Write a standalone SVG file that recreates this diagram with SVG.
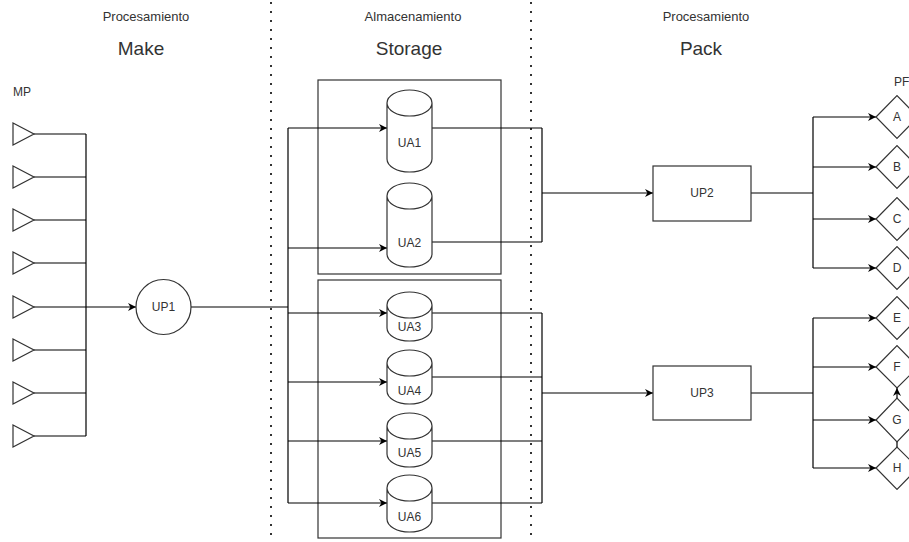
<svg xmlns="http://www.w3.org/2000/svg" width="909" height="542" viewBox="0 0 909 542">
<defs>
<style>
text{font-family:"Liberation Sans",Arial,sans-serif;fill:#333;}
.sm{font-size:12px;}
.hd{font-size:13px;}
.big{font-size:19px;}
.lbl{font-size:12px;text-anchor:middle;}
.shape{fill:#fff;stroke:#333;stroke-width:1.2;}
.box{fill:none;stroke:#333;stroke-width:1.2;}
.ln{fill:none;stroke:#000;stroke-width:1.2;}
.dot{stroke:#333;stroke-width:2;stroke-dasharray:2 7;}
</style>
<marker id="arr" viewBox="0 0 10 10" refX="10" refY="5" markerWidth="8" markerHeight="8" markerUnits="userSpaceOnUse" orient="auto">
<path d="M0,0 L10,5 L0,10 L3,5 Z" fill="#000"/>
</marker>
</defs>
<rect width="909" height="542" fill="#fff"/>

<g id="dividers">
<line class="dot" x1="271" y1="2" x2="271" y2="542"/>
<line class="dot" x1="531" y1="2" x2="531" y2="542"/>
</g>

<g id="headers">
<text class="hd" x="146" y="21" text-anchor="middle">Procesamiento</text>
<text class="big" x="141" y="55" text-anchor="middle">Make</text>
<text class="hd" x="413" y="21" text-anchor="middle">Almacenamiento</text>
<text class="big" x="409" y="55" text-anchor="middle">Storage</text>
<text class="hd" x="706" y="21" text-anchor="middle">Procesamiento</text>
<text class="big" x="701" y="55" text-anchor="middle">Pack</text>
<text class="sm" x="13" y="96">MP</text>
<text class="sm" x="894" y="86">PF</text>
</g>

<g id="storage-boxes">
<rect id="storage-1" class="box" x="318" y="80" width="183" height="194"/>
<rect id="storage-2" class="box" x="318" y="280" width="183" height="258"/>
</g>

<g id="connectors">
<!-- MP to UP1 -->
<path class="ln" d="M34,134 H86 M34,177 H86 M34,220 H86 M34,263 H86 M34,350 H86 M34,393 H86 M34,436 H86 M86,134 V436"/>
<path class="ln" d="M34,307 H136" marker-end="url(#arr)"/>
<!-- UP1 to UAs -->
<path class="ln" d="M191,307 H288 M288,128 V503"/>
<path class="ln" d="M288,128 H387" marker-end="url(#arr)"/>
<path class="ln" d="M288,248 H387" marker-end="url(#arr)"/>
<path class="ln" d="M288,313 H387" marker-end="url(#arr)"/>
<path class="ln" d="M288,382 H387" marker-end="url(#arr)"/>
<path class="ln" d="M288,441 H387" marker-end="url(#arr)"/>
<path class="ln" d="M288,503 H387" marker-end="url(#arr)"/>
<!-- UAs to UP2 / UP3 -->
<path class="ln" d="M432,128 H542 M432,242 H542 M542,128 V242"/>
<path class="ln" d="M542,193 H653" marker-end="url(#arr)"/>
<path class="ln" d="M432,313 H542 M432,377 H542 M432,441 H542 M432,503 H542 M542,313 V503"/>
<path class="ln" d="M542,393 H653" marker-end="url(#arr)"/>
<!-- UP2 to A-D -->
<path class="ln" d="M751,193 H813 M813,117 V268"/>
<path class="ln" d="M813,117 H876" marker-end="url(#arr)"/>
<path class="ln" d="M813,167 H876" marker-end="url(#arr)"/>
<path class="ln" d="M813,219 H876" marker-end="url(#arr)"/>
<path class="ln" d="M813,268 H876" marker-end="url(#arr)"/>
<!-- UP3 to E-H -->
<path class="ln" d="M751,393 H813 M813,318 V468"/>
<path class="ln" d="M813,318 H876" marker-end="url(#arr)"/>
<path class="ln" d="M813,367 H876" marker-end="url(#arr)"/>
<path class="ln" d="M813,420 H876" marker-end="url(#arr)"/>
<path class="ln" d="M813,468 H876" marker-end="url(#arr)"/>
<!-- G to F, H to G -->
<path class="ln" d="M897,398 V388" marker-end="url(#arr)"/>
<path class="ln" d="M897,447 V442"/>
</g>

<g id="mp-inputs">
<polygon class="shape" points="13,123 34,134 13,145"/>
<polygon class="shape" points="13,166 34,177 13,188"/>
<polygon class="shape" points="13,209 34,220 13,231"/>
<polygon class="shape" points="13,252 34,263 13,274"/>
<polygon class="shape" points="13,296 34,307 13,318"/>
<polygon class="shape" points="13,339 34,350 13,361"/>
<polygon class="shape" points="13,382 34,393 13,404"/>
<polygon class="shape" points="13,425 34,436 13,447"/>
</g>

<g id="UP1">
<circle class="shape" cx="163.5" cy="307" r="27.5"/>
<text class="lbl" x="163.5" y="311">UP1</text>
</g>

<g id="UA1">
<path class="shape" d="M387,103 A22.5,13 0 0 1 432,103 V159 A22.5,13 0 0 1 387,159 Z M387,103 A22.5,13 0 0 0 432,103"/>
<text class="lbl" x="409.5" y="147">UA1</text>
</g>
<g id="UA2">
<path class="shape" d="M387,196 A22.5,13 0 0 1 432,196 V254 A22.5,13 0 0 1 387,254 Z M387,196 A22.5,13 0 0 0 432,196"/>
<text class="lbl" x="409.5" y="247">UA2</text>
</g>
<g id="UA3">
<path class="shape" d="M387,305 A22.5,13 0 0 1 432,305 V328 A22.5,13 0 0 1 387,328 Z M387,305 A22.5,13 0 0 0 432,305"/>
<text class="lbl" x="409.5" y="331">UA3</text>
</g>
<g id="UA4">
<path class="shape" d="M387,363 A22.5,13 0 0 1 432,363 V391 A22.5,13 0 0 1 387,391 Z M387,363 A22.5,13 0 0 0 432,363"/>
<text class="lbl" x="409.5" y="395">UA4</text>
</g>
<g id="UA5">
<path class="shape" d="M387,426 A22.5,13 0 0 1 432,426 V454 A22.5,13 0 0 1 387,454 Z M387,426 A22.5,13 0 0 0 432,426"/>
<text class="lbl" x="409.5" y="457">UA5</text>
</g>
<g id="UA6">
<path class="shape" d="M387,488 A22.5,13 0 0 1 432,488 V519 A22.5,13 0 0 1 387,519 Z M387,488 A22.5,13 0 0 0 432,488"/>
<text class="lbl" x="409.5" y="521">UA6</text>
</g>

<g id="UP2">
<rect class="shape" x="653" y="166" width="98" height="55"/>
<text class="lbl" x="702" y="197">UP2</text>
</g>
<g id="UP3">
<rect class="shape" x="653" y="366" width="98" height="54"/>
<text class="lbl" x="702" y="397">UP3</text>
</g>

<g id="PF-A"><polygon class="shape" points="876,117 897,95.5 918,117 897,138.5"/><text class="lbl" x="897" y="121">A</text></g>
<g id="PF-B"><polygon class="shape" points="876,167 897,145.5 918,167 897,188.5"/><text class="lbl" x="897" y="171">B</text></g>
<g id="PF-C"><polygon class="shape" points="876,219 897,197.5 918,219 897,240.5"/><text class="lbl" x="897" y="223">C</text></g>
<g id="PF-D"><polygon class="shape" points="876,268 897,246.5 918,268 897,289.5"/><text class="lbl" x="897" y="272">D</text></g>
<g id="PF-E"><polygon class="shape" points="876,318 897,296.5 918,318 897,339.5"/><text class="lbl" x="897" y="322">E</text></g>
<g id="PF-F"><polygon class="shape" points="876,367 897,345.5 918,367 897,388"/><text class="lbl" x="897" y="371">F</text></g>
<g id="PF-G"><polygon class="shape" points="876,420 897,398 918,420 897,442"/><text class="lbl" x="897" y="424">G</text></g>
<g id="PF-H"><polygon class="shape" points="876,468 897,447 918,468 897,489.5"/><text class="lbl" x="897" y="472">H</text></g>
</svg>
